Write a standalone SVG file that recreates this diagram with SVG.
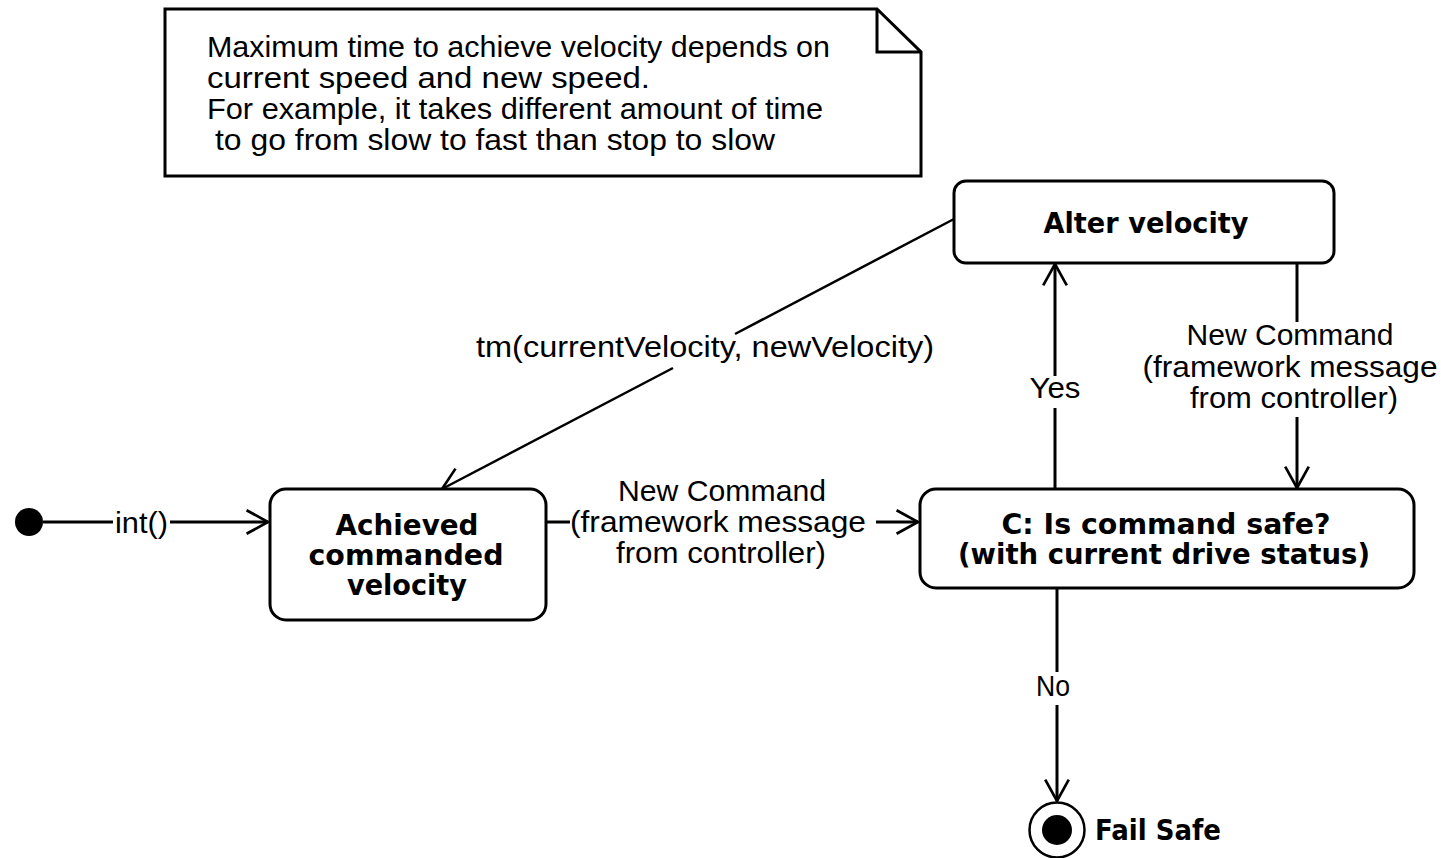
<svg xmlns="http://www.w3.org/2000/svg" width="1441" height="858" viewBox="0 0 1441 858">
  <style>
    .shape { fill: #ffffff; stroke: #000000; stroke-width: 3; }
    .edge { fill: none; stroke: #000000; stroke-width: 3; }
    .thin { fill: none; stroke: #000000; stroke-width: 2.5; }
    .lbl { font-family: "Liberation Sans", Arial, sans-serif; font-size: 30px; fill: #000000; }
    .bold { font-family: "DejaVu Sans", "Liberation Sans", sans-serif; font-weight: bold; font-size: 28px; fill: #000000; text-anchor: middle; }
    .mid { text-anchor: middle; }
  </style>
  <defs>
    <marker id="open" markerUnits="userSpaceOnUse" markerWidth="30" markerHeight="30" viewBox="-24 -14 28 28" refX="0" refY="0" orient="auto" overflow="visible">
      <path d="M-20,-11 L0,0 L-20,11" fill="none" stroke="#000000" stroke-width="2.5"/>
    </marker>
  </defs>

  <rect width="1441" height="858" fill="#ffffff"/>

  <!-- comment note -->
  <g id="note">
    <path class="shape" d="M165,9 H877 L921,52 V176 H165 Z"/>
    <path class="edge" d="M877,9 V52 H921"/>
    <text class="lbl" x="207" y="57" textLength="623" lengthAdjust="spacingAndGlyphs">Maximum time to achieve velocity depends on</text>
    <text class="lbl" x="207" y="88" textLength="443" lengthAdjust="spacingAndGlyphs">current speed and new speed.</text>
    <text class="lbl" x="207" y="119" textLength="616" lengthAdjust="spacingAndGlyphs">For example, it takes different amount of time</text>
    <text class="lbl" x="215" y="150" textLength="560" lengthAdjust="spacingAndGlyphs">to go from slow to fast than stop to slow</text>
  </g>

  <!-- transitions -->
  <g id="connectors">
    <!-- initial -> Achieved commanded velocity -->
    <line class="edge" x1="43" y1="522" x2="113" y2="522"/>
    <line class="edge" x1="170" y1="522" x2="268" y2="522" marker-end="url(#open)"/>
    <text class="lbl" x="115" y="533" textLength="53" lengthAdjust="spacingAndGlyphs">int()</text>

    <!-- Achieved -> C: Is command safe? -->
    <line class="edge" x1="546" y1="522" x2="570" y2="522"/>
    <line class="edge" x1="876" y1="522" x2="918" y2="522" marker-end="url(#open)"/>
    <text class="lbl mid" x="722" y="501" textLength="208" lengthAdjust="spacingAndGlyphs">New Command</text>
    <text class="lbl mid" x="718" y="532" textLength="296" lengthAdjust="spacingAndGlyphs">(framework message</text>
    <text class="lbl mid" x="721" y="563" textLength="210" lengthAdjust="spacingAndGlyphs">from controller)</text>

    <!-- C -> Alter velocity (Yes) -->
    <line class="edge" x1="1055" y1="489" x2="1055" y2="408"/>
    <line class="edge" x1="1055" y1="376" x2="1055" y2="264" marker-end="url(#open)"/>
    <text class="lbl mid" x="1055" y="398" textLength="51" lengthAdjust="spacingAndGlyphs">Yes</text>

    <!-- Alter velocity -> C (New Command) -->
    <line class="edge" x1="1297" y1="263" x2="1297" y2="322"/>
    <line class="edge" x1="1297" y1="417" x2="1297" y2="488" marker-end="url(#open)"/>
    <text class="lbl mid" x="1290" y="345" textLength="207" lengthAdjust="spacingAndGlyphs">New Command</text>
    <text class="lbl mid" x="1290" y="377" textLength="295" lengthAdjust="spacingAndGlyphs">(framework message</text>
    <text class="lbl mid" x="1294" y="408" textLength="208" lengthAdjust="spacingAndGlyphs">from controller)</text>

    <!-- Alter velocity -> Achieved (tm) -->
    <line class="thin" x1="954" y1="219" x2="735" y2="334"/>
    <line class="thin" x1="673" y1="368" x2="442" y2="489" marker-end="url(#open)"/>
    <text class="lbl" x="476" y="357" textLength="458" lengthAdjust="spacingAndGlyphs">tm(currentVelocity, newVelocity)</text>

    <!-- C -> Fail Safe (No) -->
    <line class="edge" x1="1057" y1="589" x2="1057" y2="672"/>
    <line class="edge" x1="1057" y1="705" x2="1057" y2="801" marker-end="url(#open)"/>
    <text class="lbl mid" x="1053" y="696" textLength="34" lengthAdjust="spacingAndGlyphs">No</text>
  </g>

  <!-- initial state -->
  <g id="initial">
    <circle cx="29" cy="522" r="14" fill="#000000"/>
  </g>

  <!-- Achieved commanded velocity -->
  <g id="achieved">
    <rect class="shape" x="270" y="489" width="276" height="131" rx="16" ry="16"/>
    <text class="bold" x="407" y="535" textLength="143" lengthAdjust="spacingAndGlyphs">Achieved</text>
    <text class="bold" x="406" y="565" textLength="195" lengthAdjust="spacingAndGlyphs">commanded</text>
    <text class="bold" x="407" y="595" textLength="120" lengthAdjust="spacingAndGlyphs">velocity</text>
  </g>

  <!-- Alter velocity -->
  <g id="alter">
    <rect class="shape" x="954" y="181" width="380" height="82" rx="12" ry="12"/>
    <text class="bold" x="1146" y="233" textLength="205" lengthAdjust="spacingAndGlyphs">Alter velocity</text>
  </g>

  <!-- C: Is command safe? -->
  <g id="check">
    <rect class="shape" x="920" y="489" width="494" height="99" rx="16" ry="16"/>
    <text class="bold" x="1166" y="534" font-size="26" textLength="329" lengthAdjust="spacingAndGlyphs">C: Is command safe?</text>
    <text class="bold" x="1164" y="564" font-size="26" textLength="412" lengthAdjust="spacingAndGlyphs">(with current drive status)</text>
  </g>

  <!-- final state -->
  <g id="failsafe">
    <circle cx="1057" cy="830" r="27.5" fill="#ffffff" stroke="#000000" stroke-width="2.5"/>
    <circle cx="1057" cy="830" r="15" fill="#000000"/>
    <text x="1095" y="840" font-family="DejaVu Sans, Liberation Sans, sans-serif" font-weight="bold" font-size="28" textLength="126" lengthAdjust="spacingAndGlyphs">Fail Safe</text>
  </g>
</svg>
